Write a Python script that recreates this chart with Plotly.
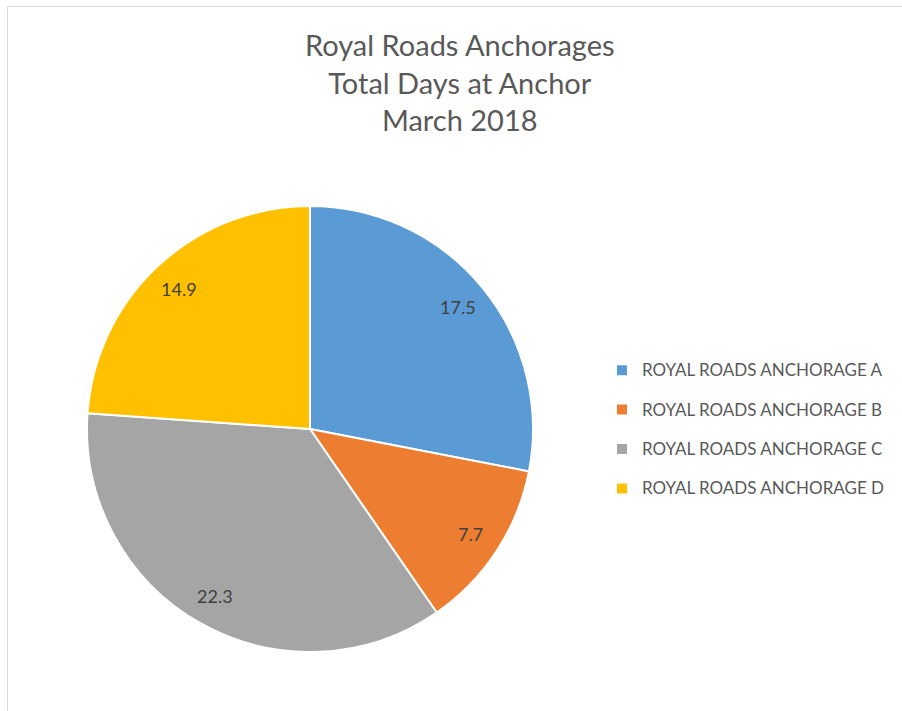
import math
import plotly.graph_objects as go

labels = ["ROYAL ROADS ANCHORAGE A", "ROYAL ROADS ANCHORAGE B",
          "ROYAL ROADS ANCHORAGE C", "ROYAL ROADS ANCHORAGE D"]
values = [17.5, 7.7, 22.3, 14.9]
colors = ["#5B9BD5", "#ED7D31", "#A5A5A5", "#FFC000"]
title_lines = ["Royal Roads Anchorages", "Total Days at Anchor", "March 2018"]

W, H = 902, 711
cx, cy, r = 310, 429, 223
label_k = 0.86

legend_labels = ['<span style="font-size:17px;baseline-shift:5px">%s</span>' % s for s in labels]

fig = go.Figure(go.Pie(
    labels=legend_labels, values=values, sort=False, direction="clockwise", rotation=0,
    marker=dict(colors=colors, line=dict(color="white", width=2)),
    textinfo="none",
    domain=dict(x=[(cx - r) / W, (cx + r) / W], y=[(H - cy - r) / H, (H - cy + r) / H]),
    hovertext=labels, hoverinfo="text+value",
))

# data labels placed along each slice's mid-angle, derived from the values
total = sum(values)
annotations = []
cum = 0.0
for v in values:
    theta = 2 * math.pi * (cum + v / 2) / total
    cum += v
    lx = cx + label_k * r * math.sin(theta)
    ly = cy - label_k * r * math.cos(theta)
    annotations.append(dict(text=f"{v:.1f}", x=lx / W, y=(H - ly) / H,
                            xref="paper", yref="paper", xanchor="center", yanchor="middle",
                            showarrow=False,
                            font=dict(family="Lato", size=18, color="#404040")))

annotations.append(dict(text="<br>".join(title_lines), x=460 / W, y=(H - 25) / H,
                        xref="paper", yref="paper", xanchor="center", yanchor="top",
                        showarrow=False, align="center",
                        font=dict(family="Lato", size=29, color="#595959")))

fig.update_layout(
    width=W, height=H,
    margin=dict(l=0, r=0, t=0, b=0),
    paper_bgcolor="white", plot_bgcolor="white",
    font=dict(family="Lato", color="#595959"),
    showlegend=True,
    legend=dict(x=602 / W, xanchor="left", y=(H - 429.5) / H, yanchor="middle",
                font=dict(family="Lato", size=28, color="#595959"),
                bgcolor="rgba(0,0,0,0)"),
    annotations=annotations,
    shapes=[dict(type="rect", xref="paper", yref="paper",
                 x0=7.5 / W, x1=1.2, y0=-0.2, y1=(H - 6.5) / H,
                 line=dict(color="#D9D9D9", width=1), fillcolor="rgba(0,0,0,0)",
                 layer="below")],
)

fig.write_html("out.html", config={"displayModeBar": False},
               post_script="document.body.style.margin='0';document.body.style.overflow='hidden';")
